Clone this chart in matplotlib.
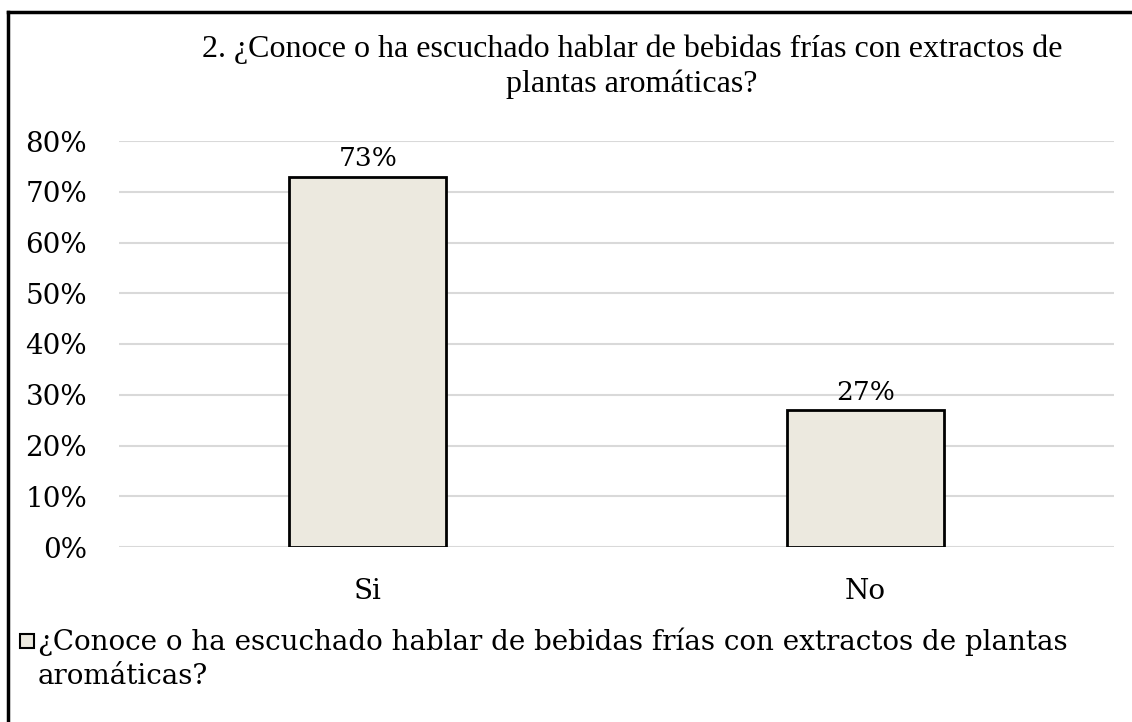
import matplotlib
matplotlib.use("Agg")
import matplotlib.pyplot as plt
from matplotlib.lines import Line2D
from matplotlib.patches import Rectangle
import numpy as np

categories = ["Si", "No"]
values = [0.73, 0.27]
value_labels = ["73%", "27%"]
yticks = [0, 0.1, 0.2, 0.3, 0.4, 0.5, 0.6, 0.7, 0.8]
title_lines = ["2. ¿Conoce o ha escuchado hablar de bebidas frías con extractos de",
               "plantas aromáticas?"]
series_name = "¿Conoce o ha escuchado hablar de bebidas frías con extractos de plantas\naromáticas?"

W, H = 1132, 722
bar_color = "#ECE9DF"
body_font = ["DejaVu Serif"]
title_font = ["Liberation Serif", "DejaVu Serif"]

fig = plt.figure(figsize=(W / 100, H / 100), dpi=100)
ax = fig.add_axes([119 / W, 175 / H, 995 / W, 406 / H])

x = np.arange(len(categories))
bars = ax.bar(x, values, width=0.315, color=bar_color, edgecolor="black",
              linewidth=2, zorder=3)

for xi, v, lab in zip(x, values, value_labels):
    ax.text(xi, v + 0.01, lab, ha="center", va="bottom", fontsize=19,
            family=body_font)

ax.set_xlim(-0.5, len(categories) - 0.5)
ax.set_ylim(0, 0.8)
ax.set_yticks(yticks)
ax.set_yticklabels([f"{int(round(t * 100))}%" for t in yticks], fontsize=20,
                   family=body_font)
ax.set_xticks(x)
ax.set_xticklabels(categories, fontsize=20, family=body_font)
ax.tick_params(axis="both", length=0)
ax.tick_params(axis="y", pad=23)
ax.tick_params(axis="x", pad=22)
ax.grid(axis="y", color="#D9D9D9", linewidth=1.5, zorder=0)
for s in ax.spines.values():
    s.set_visible(False)

# title, two centred lines
for line, yb in zip(title_lines, [57, 92]):
    fig.text(632 / W, 1 - yb / H, line, ha="center", va="baseline",
             fontsize=23, family=title_font)

# legend drawn by hand so the key sits next to the first line
fig.add_artist(Rectangle((20 / W, 1 - 648 / H), 14 / W, 14 / H,
                         transform=fig.transFigure, facecolor=bar_color,
                         edgecolor="black", linewidth=1.5))
fig.text(38 / W, 1 - 627 / H, series_name, ha="left", va="top",
         fontsize=20, family=body_font, linespacing=1.38)

# outer frame (only top and left edges visible)
fig.add_artist(Line2D([8 / W, 8 / W], [0, 1 - 12 / H],
                      transform=fig.transFigure, color="black", linewidth=2.5))
fig.add_artist(Line2D([8 / W, 1], [1 - 12 / H, 1 - 12 / H],
                      transform=fig.transFigure, color="black", linewidth=2.5))

fig.savefig("out.png", dpi=100)
